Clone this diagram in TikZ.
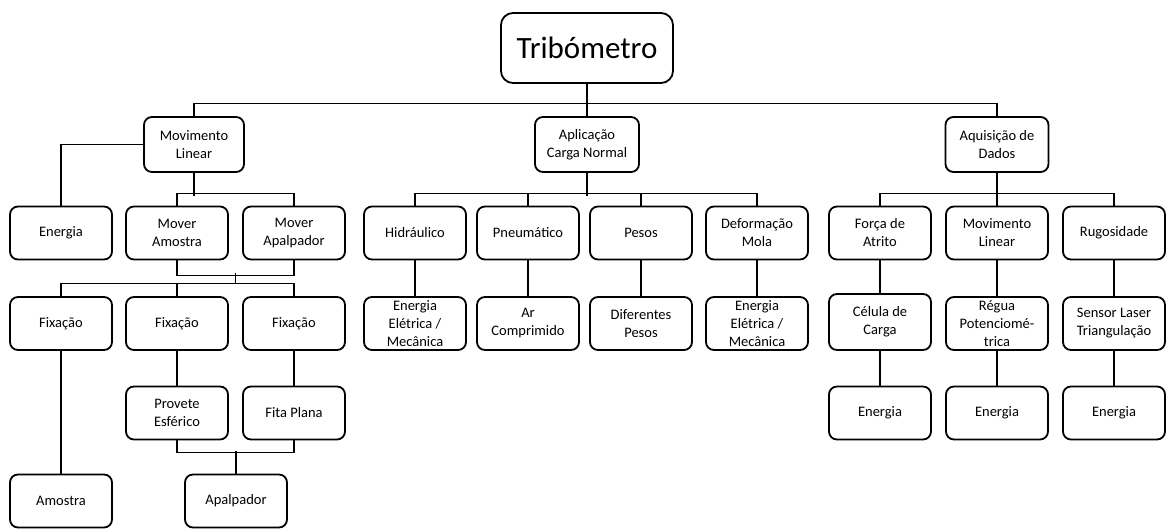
\documentclass[tikz,border=0pt]{standalone}
\usepackage{fontspec}
\setmainfont{Carlito}
\begin{document}
\begin{tikzpicture}[x=1pt, y=-1pt]
% Configuração de estilos
\tikzstyle{raiz} = [rectangle, draw, line width=1.8pt, rounded corners=12pt, minimum width=172pt, minimum height=70pt, inner sep=0pt, font=\fontsize{31}{36}\selectfont]
\tikzstyle{bloco} = [rectangle, draw, line width=1.8pt, rounded corners=8pt, minimum width=102pt, minimum height=53pt, inner sep=0pt, align=center, font=\fontsize{14.5}{18}\selectfont]
\tikzstyle{ligacao} = [line width=1.1pt]

\useasboundingbox (0,0) rectangle (1176,528);

% Raiz
\node[raiz] (tribometro) at (587,48) {Tribómetro};

% Subsistemas principais
\node[bloco, minimum width=100pt, minimum height=55pt] (movimento) at (194,144.5) {Movimento\\Linear};
\node[bloco, minimum width=104pt, minimum height=55pt] (aplicacao) at (587,144.5) {Aplicação\\Carga Normal};
\node[bloco, minimum width=103pt, minimum height=55pt] (aquisicao) at (997,144.5) {Aquisição de\\Dados};

% Segundo nível
\node[bloco] (energiaA) at (61,233) {Energia};
\node[bloco] (moverAmostra) at (177,233) {Mover\\Amostra};
\node[bloco] (moverApalpador) at (294,233) {Mover\\Apalpador};
\node[bloco] (hidraulico) at (415,233) {Hidráulico};
\node[bloco] (pneumatico) at (528,233) {Pneumático};
\node[bloco] (pesos) at (641,233) {Pesos};
\node[bloco] (deformacao) at (757,233) {Deformação\\Mola};
\node[bloco] (forca) at (880,233) {Força de\\Atrito};
\node[bloco] (movLinear) at (997,233) {Movimento\\Linear};
\node[bloco] (rugosidade) at (1114,233) {Rugosidade};

% Terceiro nível
\node[bloco] (fixacaoA) at (61,323.5) {Fixação};
\node[bloco] (fixacaoB) at (177,323.5) {Fixação};
\node[bloco] (fixacaoC) at (294,323.5) {Fixação};
\node[bloco] (energiaHid) at (415,323.5) {Energia\\Elétrica /\\Mecânica};
\node[bloco] (arComp) at (528,323.5) {Ar\\Comprimido};
\node[bloco] (difPesos) at (641,323.5) {Diferentes\\Pesos};
\node[bloco] (energiaMola) at (757,323.5) {Energia\\Elétrica /\\Mecânica};
\node[bloco, minimum height=56pt] (celula) at (880,322) {Célula de\\Carga};
\node[bloco] (regua) at (997,323.5) {Régua\\Potenciomé-\\trica};
\node[bloco] (sensor) at (1114,323.5) {Sensor Laser\\Triangulação};

% Quarto nível
\node[bloco] (provete) at (177,413) {Provete\\Esférico};
\node[bloco] (fitaPlana) at (294,413) {Fita Plana};
\node[bloco] (energiaCel) at (880,413) {Energia};
\node[bloco] (energiaReg) at (997,413) {Energia};
\node[bloco] (energiaSen) at (1114,413) {Energia};

% Quinto nível
\node[bloco] (amostra) at (61,501) {Amostra};
\node[bloco] (apalpador) at (236,501) {Apalpador};

% Pontos de junção
\coordinate (juncaoMover) at (235.5,273);
\coordinate (juncaoFix) at (235.5,284);

% Ligações da raiz
\draw[ligacao] (tribometro) -- (aplicacao);
\draw[ligacao] (movimento.north) -- ++(0,-13) -| (aquisicao.north);

% Ligações do movimento linear
\draw[ligacao] (movimento.west) -| (energiaA.north);
\draw[ligacao] (movimento.south) -- ++(0,23);
\draw[ligacao] (moverAmostra.north) -- ++(0,-12) -| (moverApalpador.north);
\draw[ligacao] (moverAmostra.south) -- ++(0,15) -| (moverApalpador.south);
\draw[ligacao] (juncaoMover) -- (juncaoFix);
\draw[ligacao] (fixacaoA.north) -- ++(0,-13) -| (fixacaoC.north);
\draw[ligacao] (fixacaoB.north) -- ++(0,-13);
\draw[ligacao] (fixacaoA) -- (amostra);
\draw[ligacao] (fixacaoB) -- (provete);
\draw[ligacao] (fixacaoC) -- (fitaPlana);
\draw[ligacao] (provete.south) -- ++(0,12) -| (fitaPlana.south);
\draw[ligacao] (apalpador.north) -- ++(0,-23);

% Ligações da carga normal
\draw[ligacao] (aplicacao.south) -- ++(0,23);
\draw[ligacao] (hidraulico.north) -- ++(0,-12) -| (deformacao.north);
\draw[ligacao] (pneumatico.north) -- ++(0,-12);
\draw[ligacao] (pesos.north) -- ++(0,-12);
\draw[ligacao] (hidraulico) -- (energiaHid);
\draw[ligacao] (pneumatico) -- (arComp);
\draw[ligacao] (pesos) -- (difPesos);
\draw[ligacao] (deformacao) -- (energiaMola);

% Ligações da aquisição de dados
\draw[ligacao] (aquisicao) -- (movLinear);
\draw[ligacao] (forca.north) -- ++(0,-12) -| (rugosidade.north);
\draw[ligacao] (forca) -- (celula);
\draw[ligacao] (movLinear) -- (regua);
\draw[ligacao] (rugosidade) -- (sensor);
\draw[ligacao] (celula) -- (energiaCel);
\draw[ligacao] (regua) -- (energiaReg);
\draw[ligacao] (sensor) -- (energiaSen);
\end{tikzpicture}
\end{document}
